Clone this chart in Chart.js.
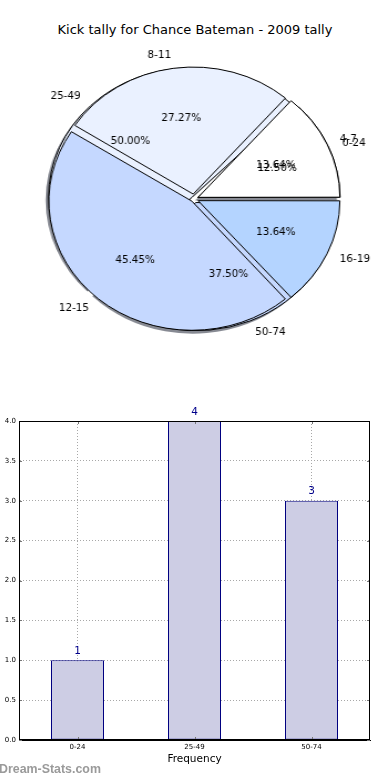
<!DOCTYPE html>
<html><head><meta charset="utf-8">
<script src="https://cdn.jsdelivr.net/npm/chart.js@4.4.0/dist/chart.umd.min.js"></script>
<style>
html,body{margin:0;padding:0;background:#fff;}
#wrap{position:relative;width:390px;height:780px;overflow:hidden;background:#fff;font-family:"DejaVu Sans",sans-serif;}
#title{position:absolute;left:0;width:390px;top:22px;line-height:15px;text-align:center;font-size:13px;color:#000;}
.pie{position:absolute;left:18px;top:29px;transform:scaleX(1.108);transform-origin:176px 170px;}
#shadowCv{left:15.2px;top:31.5px;}
#barCv{position:absolute;left:0;top:400px;}
#wm{position:absolute;left:-1px;top:763px;line-height:13px;font-size:12.4px;font-weight:bold;color:#9a9a9a;font-family:"Liberation Sans",Arial,sans-serif;}
</style></head>
<body>
<div id="wrap">
  <div id="title">Kick tally for Chance Bateman - 2009 tally</div>
  <canvas id="shadowCv" class="pie" width="352" height="340"></canvas>
  <canvas id="pieBCv" class="pie" width="352" height="340"></canvas>
  <canvas id="pieACv" class="pie" width="352" height="340"></canvas>
  <canvas id="barCv" width="390" height="380"></canvas>
  <div id="wm">Dream-Stats.com</div>
</div>
<script>
// ---- data ----
const tallyBins = ['4-7', '8-11', '12-15', '16-19'];
const tallyCounts = [3, 6, 10, 3];
const distBins = ['0-24', '25-49', '50-74'];
const distCounts = [1, 4, 3];
const barCategories = ['0-24', '25-49', '50-74'];
const barValues = [1, 4, 3];
const yTicks = [0, 0.5, 1, 1.5, 2, 2.5, 3, 3.5, 4];

// ---- styles ----
const SX = 1.108;
const tallyColors = ['#ffffff', '#eaf1ff', '#c5d8ff', '#b4d4ff'];
const distColors = ['#ffffff', '#eaf1ff', '#c5d8ff'];
const EXPLODE = 5;
const PIE_R = 127;
const labelFont = '10.4px "DejaVu Sans", sans-serif';

const rev = a => a.slice().reverse();
function explodeOffsets(vals, px) {
  const sum = vals.reduce((a, b) => a + b, 0);
  return vals.map(v => {
    const c = 2 * Math.PI * v / sum;
    const fix = 1 - Math.sin(Math.min(Math.PI, c));
    return px * 4 / (1 + fix);
  });
}
function pieConfig(labels, values, colors, opts, plugins) {
  return {
    type: 'pie',
    data: {
      labels: rev(labels),
      datasets: [Object.assign({
        data: rev(values),
        backgroundColor: rev(colors),
        borderColor: '#000',
        borderWidth: 1,
        offset: explodeOffsets(rev(values), EXPLODE),
        rotation: 90,
        radius: PIE_R
      }, opts)]
    },
    options: {
      responsive: false, animation: false, rotation: 90, radius: PIE_R,
      layout: {padding: 0},
      plugins: {legend: {display: false}, tooltip: {enabled: false}}
    },
    plugins: plugins || []
  };
}

const shadowChart = new Chart(document.getElementById('shadowCv'),
  pieConfig(distBins, distCounts, distColors.map(() => 'rgba(55,60,75,0.6)'), {borderWidth: 0}));
const chartB = new Chart(document.getElementById('pieBCv'),
  pieConfig(distBins, distCounts, distColors, {}));

function drawPieLabels(ctx, chart) {
  const meta = chart.getDatasetMeta(0);
  const ds = chart.data.datasets[0];
  const sum = ds.data.reduce((a, b) => a + b, 0);
  meta.data.forEach((el, i) => {
    const p = el.getProps(['x', 'y', 'startAngle', 'endAngle', 'outerRadius'], true);
    const mid = (p.startAngle + p.endAngle) / 2;
    const circ = p.endAngle - p.startAngle;
    const fix = 1 - Math.sin(Math.min(Math.PI, circ));
    const t = (el.options.offset || 0) / 4 * (1 + fix);
    const cx = p.x + Math.cos(mid) * t, cy = p.y + Math.sin(mid) * t;
    const r = p.outerRadius;
    ctx.save();
    ctx.font = labelFont;
    ctx.fillStyle = '#000';
    ctx.textBaseline = 'middle';
    ctx.save();
    ctx.translate(cx + Math.cos(mid) * r * 1.1, cy + Math.sin(mid) * r * 1.1);
    ctx.scale(1 / SX, 1);
    ctx.textAlign = Math.cos(mid) > 0 ? 'left' : 'right';
    ctx.fillText(chart.data.labels[i], 0, 0);
    ctx.restore();
    ctx.save();
    ctx.translate(cx + Math.cos(mid) * r * 0.6, cy + Math.sin(mid) * r * 0.6);
    ctx.scale(1 / SX, 1);
    ctx.textAlign = 'center';
    ctx.fillText((ds.data[i] / sum * 100).toFixed(2) + '%', 0, 0);
    ctx.restore();
    ctx.restore();
  });
}

const chartA = new Chart(document.getElementById('pieACv'),
  pieConfig(tallyBins, tallyCounts, tallyColors, {}, [{
    id: 'pieLabels',
    afterDraw(chart) {
      drawPieLabels(chart.ctx, chartB);
      drawPieLabels(chart.ctx, chart);
    }
  }]));

// ---- bar chart ----
const barChart = new Chart(document.getElementById('barCv'), {
  type: 'bar',
  data: {
    labels: barCategories,
    datasets: [{
      data: barValues,
      backgroundColor: '#cdcde4',
      borderColor: '#000080',
      borderWidth: 1,
      borderSkipped: false,
      barPercentage: 53 / 117,
      categoryPercentage: 1
    }]
  },
  options: {
    responsive: false, animation: false,
    layout: {padding: {top: 21, right: 20, left: 0, bottom: 0}},
    plugins: {legend: {display: false}, tooltip: {enabled: false}},
    scales: {
      x: {
        grid: {offset: false, color: '#a8a8a8', drawTicks: false, lineWidth: 1},
        border: {display: true, color: '#000', dash: [1, 2]},
        ticks: {font: {size: 7, family: '"DejaVu Sans", sans-serif'}, color: '#000', padding: 3},
        title: {display: true, text: 'Frequency', color: '#000',
                font: {size: 10.5, family: '"DejaVu Sans", sans-serif'}, padding: {top: 0, bottom: 14}},
        afterFit: s => { s.height = 40; }
      },
      y: {
        min: 0, max: 4,
        afterBuildTicks: axis => { axis.ticks = yTicks.map(v => ({value: v})); },
        grid: {color: '#a8a8a8', drawTicks: false, lineWidth: 1},
        border: {display: true, color: '#000', dash: [1, 2]},
        ticks: {font: {size: 7, family: '"DejaVu Sans", sans-serif'}, color: '#000', padding: 3,
                callback: v => Number(v).toFixed(1)},
        afterFit: s => { s.width = 19; }
      }
    }
  },
  plugins: [{
    id: 'frameAndValues',
    afterDatasetsDraw(chart) {
      const ctx = chart.ctx;
      const meta = chart.getDatasetMeta(0);
      ctx.save();
      ctx.font = '10.5px "DejaVu Sans", sans-serif';
      ctx.fillStyle = '#00008b';
      ctx.textAlign = 'center';
      ctx.textBaseline = 'middle';
      meta.data.forEach((el, i) => {
        ctx.fillText(String(chart.data.datasets[0].data[i]), el.x, el.y - 9);
      });
      ctx.restore();
    },
    afterDraw(chart) {
      const ca = chart.chartArea, ctx = chart.ctx;
      const xs = chart.scales.x, ys = chart.scales.y;
      ctx.save();
      // inward tick marks on all four sides
      ctx.strokeStyle = '#777';
      ctx.lineWidth = 1;
      ctx.beginPath();
      xs.ticks.forEach((t, i) => {
        const x = Math.round(xs.getPixelForTick(i)) + 0.5;
        ctx.moveTo(x, ca.bottom); ctx.lineTo(x, ca.bottom - 3);
        ctx.moveTo(x, ca.top); ctx.lineTo(x, ca.top + 3);
      });
      ys.ticks.forEach((t, i) => {
        const y = Math.round(ys.getPixelForTick(i)) + 0.5;
        ctx.moveTo(ca.left, y); ctx.lineTo(ca.left + 3, y);
        ctx.moveTo(ca.right, y); ctx.lineTo(ca.right - 3, y);
      });
      ctx.stroke();
      // axes frame
      ctx.strokeStyle = '#000';
      ctx.strokeRect(Math.round(ca.left) + 0.5, Math.round(ca.top) + 0.5,
                     Math.round(ca.right - ca.left) - 1, Math.round(ca.bottom - ca.top) - 1);
      ctx.restore();
    }
  }]
});
</script>
</body></html>
